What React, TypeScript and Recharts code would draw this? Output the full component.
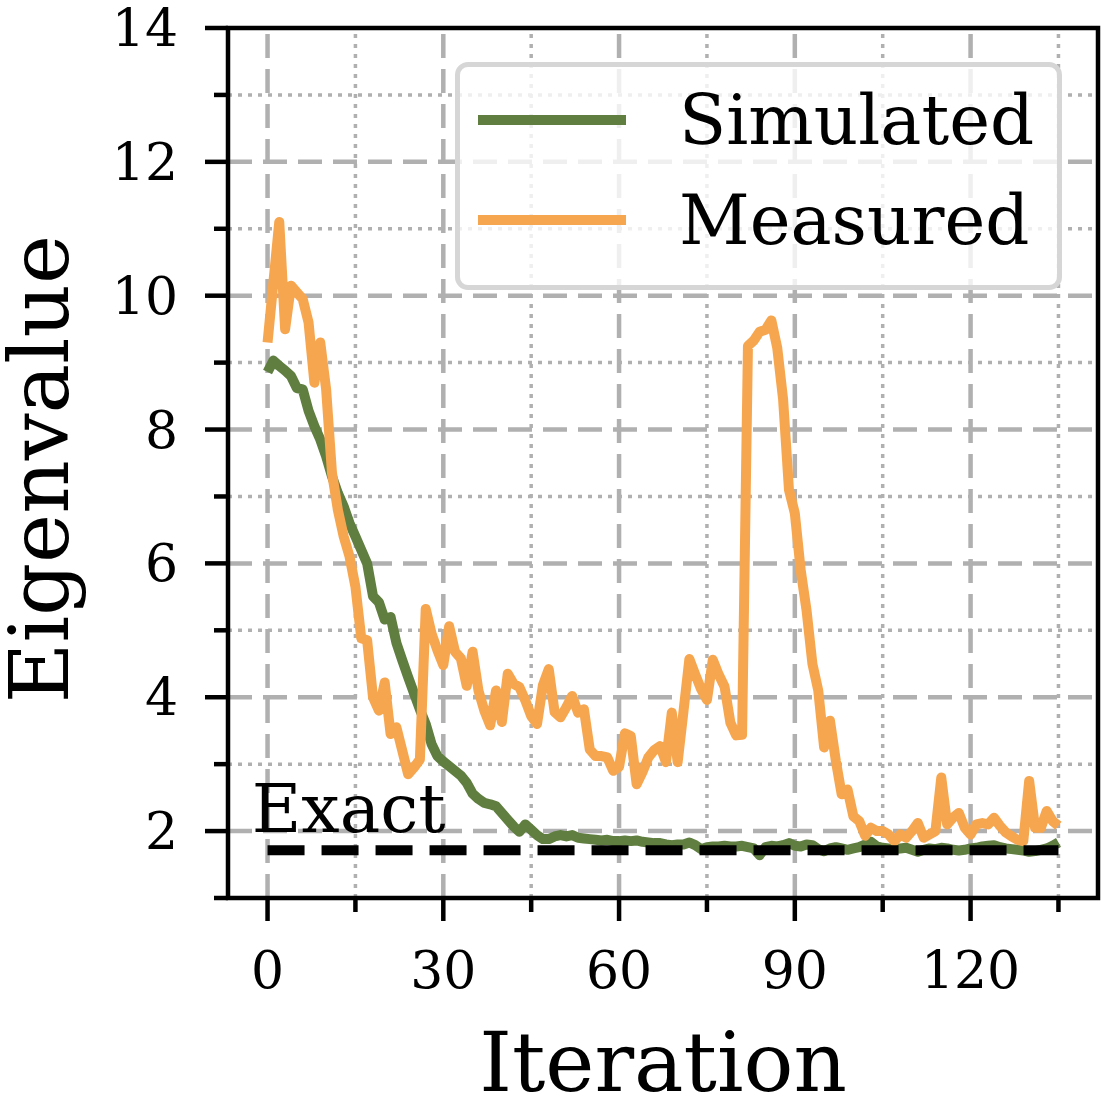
import React from "react";
import {
  ComposedChart,
  Line,
  XAxis,
  YAxis,
  ReferenceLine,
  ReferenceArea,
  ReferenceDot,
  Legend,
} from "recharts";

const FONT = "'DejaVu Serif', serif";
const GREEN = "#5f7e40";
const ORANGE = "#f7a650";
const GRID = "#b0b0b0";

const SERIES_NAMES = ["Simulated", "Measured"];
const EXACT_VALUE = 1.715;
const EXACT_LABEL = "Exact";
const X_TITLE = "Iteration";
const Y_TITLE = "Eigenvalue";

const X_MAJOR = [0, 30, 60, 90, 120];
const X_MINOR = [15, 45, 75, 105, 135];
const Y_MAJOR = [2, 4, 6, 8, 10, 12, 14];
const Y_MINOR = [1, 3, 5, 7, 9, 11, 13];
const Y_LIMITS = [1, 14];
const X_LIMITS = [-6.75, 141.75];

const SIMULATED = [
  8.86, 9.03, 8.95, 8.88, 8.8, 8.62, 8.6, 8.28, 8.05, 7.85,
  7.6, 7.3, 7.05, 6.85, 6.6, 6.4, 6.2, 6.0, 5.51, 5.42,
  5.16, 5.2, 4.81, 4.55, 4.3, 4.06, 3.82, 3.6, 3.3, 3.12,
  3.04, 2.97, 2.9, 2.83, 2.72, 2.56, 2.48, 2.42, 2.4, 2.37,
  2.27, 2.17, 2.07, 1.99, 2.1, 2.02, 1.94, 1.88, 1.88, 1.92,
  1.94, 1.92, 1.94, 1.9, 1.89, 1.88, 1.87, 1.86, 1.87, 1.85,
  1.85, 1.86, 1.85, 1.86, 1.84, 1.83, 1.82, 1.82, 1.8, 1.79,
  1.8, 1.8, 1.83, 1.79, 1.73, 1.76, 1.77, 1.77, 1.78, 1.77,
  1.77, 1.78, 1.76, 1.74, 1.64, 1.76, 1.78, 1.77, 1.79, 1.82,
  1.78, 1.77, 1.8, 1.79, 1.73, 1.7, 1.74, 1.76, 1.74, 1.72,
  1.74, 1.76, 1.8, 1.84, 1.77, 1.75, 1.74, 1.73, 1.74, 1.75,
  1.72, 1.69, 1.72, 1.74, 1.73, 1.75, 1.74, 1.72, 1.71, 1.72,
  1.74, 1.75, 1.77, 1.78, 1.79, 1.76, 1.74, 1.73, 1.72, 1.71,
  1.69, 1.7, 1.72, 1.74, 1.78, 1.83,
];

const MEASURED = [
  9.3, 10.2, 11.1, 9.5, 10.15, 10.05, 9.95, 9.6, 8.7, 9.3,
  8.6, 7.35, 6.8, 6.4, 6.1, 5.65, 4.88, 4.85, 4.0, 3.8,
  4.22, 3.45, 3.55, 3.2, 2.85, 2.95, 3.07, 5.32, 4.95, 4.7,
  4.48, 5.06, 4.68, 4.58, 4.17, 4.68, 4.1, 3.8, 3.58, 4.1,
  3.63, 4.35, 4.2, 4.15, 3.95, 3.72, 3.6, 4.18, 4.42, 3.78,
  3.7, 3.85, 4.02, 3.77, 3.82, 3.22, 3.12, 3.12, 3.1, 2.9,
  2.96, 3.46, 3.42, 2.7, 2.88, 3.1, 3.21, 3.27, 3.03, 3.77,
  3.03, 3.79, 4.57, 4.34, 4.12, 3.96, 4.56, 4.34, 4.16, 3.62,
  3.43, 3.44, 9.25, 9.33, 9.46, 9.49, 9.63, 9.22, 8.45, 7.1,
  6.75, 5.9, 5.3, 4.5, 4.1, 3.25, 3.65, 3.05, 2.55, 2.62,
  2.22, 2.15, 1.93, 2.05, 2.0, 2.0, 1.95, 1.85, 1.95, 1.9,
  2.0, 2.12, 1.9, 1.95, 2.0, 2.8, 2.1, 2.2, 2.27, 2.05,
  1.95, 2.1, 2.12, 2.1, 2.2, 2.08, 1.98, 1.92, 1.87, 1.85,
  2.75, 2.05, 2.05, 2.3, 2.15, 2.08,
];

const ITERATIONS = SIMULATED.map((_, k) => k);

const data = ITERATIONS.map((it, k) => ({
  it,
  simulated: SIMULATED[k],
  measured: MEASURED[k],
  exact: EXACT_VALUE,
}));

const X_TICKS = [...X_MAJOR, ...X_MINOR].sort((a, b) => a - b);
const Y_TICKS = [...Y_MAJOR, ...Y_MINOR].sort((a, b) => a - b);
const inside = (v: number, lim: number[]) => v > lim[0] && v < lim[1];

const YTick = (props: any) => {
  const { x, y, payload } = props;
  const v = payload.value;
  const major = Y_MAJOR.includes(v);
  return (
    <g>
      <line x1={x} x2={x - (major ? 23 : 14)} y1={y} y2={y} stroke="#000" strokeWidth={4.5} />
      {major && (
        <text x={x - 50} y={y} textAnchor="end" dominantBaseline="central" fontSize={52} fontFamily={FONT} fill="#000">
          {v}
        </text>
      )}
    </g>
  );
};

const XTick = (props: any) => {
  const { x, y, payload } = props;
  const v = payload.value;
  const major = X_MAJOR.includes(v);
  return (
    <g>
      <line x1={x} x2={x} y1={y} y2={y + (major ? 23 : 14)} stroke="#000" strokeWidth={4.5} />
      {major && (
        <text x={x} y={y + 90} textAnchor="middle" fontSize={52} fontFamily={FONT} fill="#000">
          {v}
        </text>
      )}
    </g>
  );
};

const XLabel = (p: any) => {
  const vb = p.viewBox || { x: 228, y: 898, width: 870, height: 200 };
  return (
    <text x={vb.x + vb.width / 2} y={vb.y + 193} textAnchor="middle" fontSize={83} fontFamily={FONT} fill="#000">
      {X_TITLE}
    </text>
  );
};

const YLabel = (p: any) => {
  const vb = p.viewBox || { x: 0, y: 28, width: 228, height: 870 };
  const cx = vb.x + 68;
  const cy = vb.y + vb.height / 2 + 6;
  return (
    <text x={cx} y={cy} transform={`rotate(-90 ${cx} ${cy})`} textAnchor="middle" fontSize={83} fontFamily={FONT} fill="#000">
      {Y_TITLE}
    </text>
  );
};

const ExactLabel = (p: any) => {
  const vb = p.viewBox || { x: 0, y: 0 };
  return (
    <text x={vb.x} y={vb.y} fontSize={68} fontFamily={FONT} fill="#000">
      {EXACT_LABEL}
    </text>
  );
};

const LegendBox = (props: any) => {
  const colors = [GREEN, ORANGE];
  const items = SERIES_NAMES.map((name, k) => {
    const found = (props.payload || []).find((p: any) => p.value === name);
    return { value: name, color: found ? found.color : colors[k] };
  });
  return (
    <div
      style={{
        position: "relative",
        boxSizing: "border-box",
        width: 607,
        height: 228,
        border: "5px solid #d6d6d6",
        borderRadius: 13,
        background: "rgba(255,255,255,0.8)",
      }}
    >
      {items.map((it, k) => (
        <React.Fragment key={it.value}>
          <div
            style={{
              position: "absolute",
              left: 18,
              top: 48 + 100 * k,
              width: 148,
              height: 10,
              background: it.color,
            }}
          />
          <div
            style={{
              position: "absolute",
              left: 219,
              top: 13 + 100 * k,
              height: 80,
              lineHeight: "80px",
              fontSize: 69,
              fontFamily: FONT,
              color: "#000",
              whiteSpace: "nowrap",
            }}
          >
            {it.value}
          </div>
        </React.Fragment>
      ))}
    </div>
  );
};

export default function App() {
  return (
    <div style={{ position: "absolute", left: 0, top: 0, width: 1106, height: 1098, background: "#fff" }}>
      <ComposedChart width={1106} height={1098} data={data} margin={{ top: 28, right: 8, bottom: 0, left: 0 }}>
        <XAxis
          dataKey="it"
          type="number"
          domain={X_LIMITS}
          allowDataOverflow
          ticks={X_TICKS}
          interval={0}
          tick={<XTick />}
          tickSize={0}
          tickMargin={0}
          tickLine={false}
          axisLine={false}
          height={200}
          label={XLabel}
        />
        <YAxis
          type="number"
          domain={Y_LIMITS}
          allowDataOverflow
          ticks={Y_TICKS}
          interval={0}
          tick={<YTick />}
          tickSize={0}
          tickMargin={0}
          tickLine={false}
          axisLine={false}
          width={228}
          label={YLabel}
        />
        {Y_MINOR.filter((v) => inside(v, Y_LIMITS)).map((v) => (
          <ReferenceLine key={"ym" + v} y={v} stroke={GRID} strokeWidth={3.5} strokeDasharray="4 6" />
        ))}
        {X_MINOR.filter((v) => inside(v, X_LIMITS)).map((v) => (
          <ReferenceLine key={"xm" + v} x={v} stroke={GRID} strokeWidth={3.5} strokeDasharray="4 6" />
        ))}
        {Y_MAJOR.filter((v) => inside(v, Y_LIMITS)).map((v) => (
          <ReferenceLine key={"yM" + v} y={v} stroke={GRID} strokeWidth={4.5} strokeDasharray="24 11" />
        ))}
        {X_MAJOR.filter((v) => inside(v, X_LIMITS)).map((v) => (
          <ReferenceLine key={"xM" + v} x={v} stroke={GRID} strokeWidth={4.5} strokeDasharray="24 11" />
        ))}
        <Line
          dataKey="simulated"
          name={SERIES_NAMES[0]}
          stroke={GREEN}
          strokeWidth={10}
          strokeLinejoin="round"
          dot={false}
          activeDot={false}
          isAnimationActive={false}
        />
        <Line
          dataKey="measured"
          name={SERIES_NAMES[1]}
          stroke={ORANGE}
          strokeWidth={10}
          strokeLinejoin="round"
          dot={false}
          activeDot={false}
          isAnimationActive={false}
        />
        <Line
          dataKey="exact"
          name="Exact"
          stroke="#000"
          strokeWidth={10}
          strokeDasharray="37 17"
          dot={false}
          activeDot={false}
          legendType="none"
          isAnimationActive={false}
        />
        <ReferenceArea
          x1={X_LIMITS[0]}
          x2={X_LIMITS[1]}
          y1={Y_LIMITS[0]}
          y2={Y_LIMITS[1]}
          fill="none"
          fillOpacity={0}
          stroke="#000"
          strokeWidth={4.5}
          strokeOpacity={1}
          zIndex={2500}
        />
        <ReferenceDot x={-2.7} y={1.985} r={0} fill="none" stroke="none" label={ExactLabel} />
        <Legend
          content={LegendBox}
          layout="vertical"
          align="center"
          verticalAlign="middle"
          wrapperStyle={{ left: 455, top: 62, width: 607, height: 228 }}
        />
      </ComposedChart>
    </div>
  );
}
